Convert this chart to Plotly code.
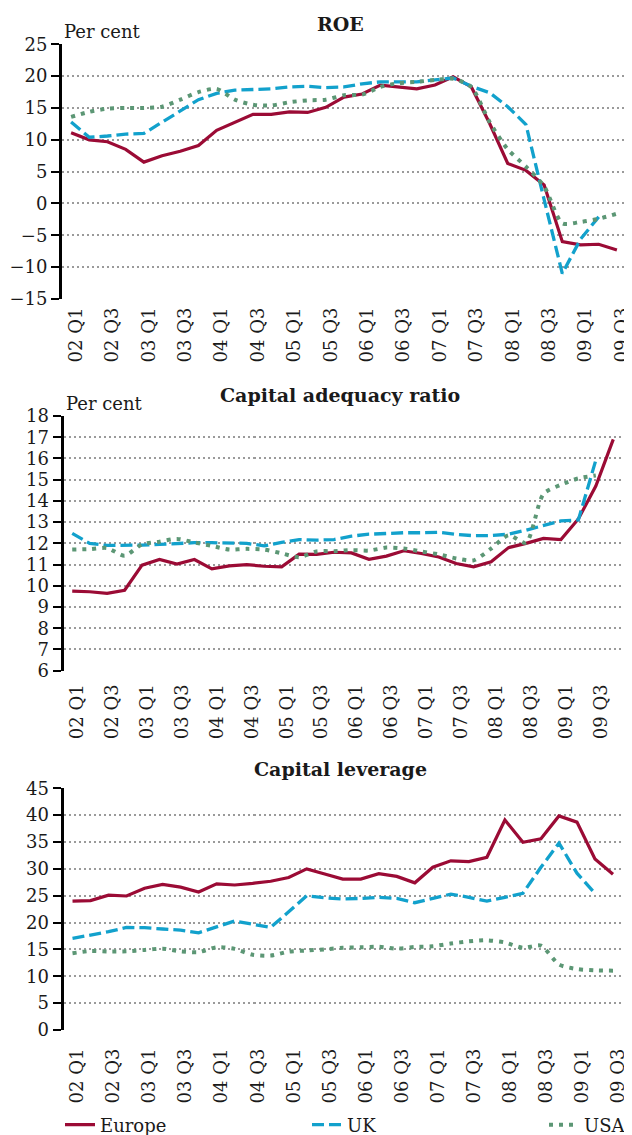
import plotly.graph_objects as go

# ---------------- data ----------------
quarters = [f"{y:02d} Q{q}" for y in range(2, 10) for q in range(1, 5)]  # 02 Q1 .. 09 Q4
q31 = quarters[:31]                 # 02 Q1 .. 09 Q3
q32 = quarters[:32]                 # 02 Q1 .. 09 Q4
tick_labels = quarters[0:31:2]      # every second quarter

roe_europe = [11.1, 10.0, 9.7, 8.5, 6.5, 7.5, 8.2, 9.1, 11.5, 12.8, 14.0, 14.0, 14.4, 14.3, 15.1, 16.7,
              17.2, 18.6, 18.3, 18.0, 18.6, 19.9, 18.3, 12.6, 6.3, 5.2, 2.9, -6.0, -6.5, -6.4, -7.3]
roe_uk = [12.8, 10.4, 10.6, 10.9, 11.0, 12.8, 14.6, 16.3, 17.3, 17.8, 17.9, 18.0, 18.3, 18.4, 18.2, 18.3,
          18.8, 19.1, 19.1, 19.1, 19.4, 19.7, 18.4, 17.4, 15.2, 12.4, 0.6, -11.0, -5.6, -2.1, None]
roe_usa = [13.6, 14.4, 14.9, 15.0, 15.0, 15.2, 16.3, 17.5, 18.0, 16.3, 15.5, 15.4, 15.9, 16.2, 16.3, 17.0,
           17.1, 18.3, 18.9, 19.1, 19.4, 19.6, 18.3, 12.8, 8.5, 5.8, 2.7, -3.1, -2.9, -2.4, -1.6]

car_europe = [9.75, 9.72, 9.64, 9.79, 10.97, 11.24, 11.02, 11.24, 10.8, 10.94, 11.0, 10.92, 10.89, 11.49,
              11.48, 11.58, 11.55, 11.25, 11.4, 11.65, 11.52, 11.36, 11.05, 10.89, 11.13, 11.8, 12.0,
              12.23, 12.18, 13.15, 14.7, 16.9]
car_uk = [12.47, 12.0, 11.9, 11.9, 11.92, 11.95, 12.0, 12.03, 12.03, 12.03, 12.0, 11.88, 12.05, 12.18,
          12.15, 12.18, 12.34, 12.43, 12.47, 12.5, 12.5, 12.52, 12.42, 12.36, 12.37, 12.43, 12.62, 12.86,
          13.06, 13.1, 15.92, None]
car_usa = [11.71, 11.73, 11.78, 11.42, 11.95, 12.08, 12.21, 12.04, 11.88, 11.71, 11.74, 11.71, 11.53,
           11.35, 11.62, 11.63, 11.68, 11.66, 11.8, 11.76, 11.62, 11.48, 11.29, 11.2, 11.75, 12.38, 12.03,
           14.33, 14.76, 15.06, 15.2, None]

lev_europe = [24.0, 24.1, 25.1, 24.95, 26.4, 27.1, 26.6, 25.7, 27.2, 27.0, 27.3, 27.7, 28.4, 30.0, 29.05,
              28.1, 28.1, 29.1, 28.6, 27.4, 30.3, 31.5, 31.35, 32.15, 39.1, 34.95, 35.6, 39.85, 38.7,
              31.85, 29.0]
lev_uk = [17.07, 17.7, 18.3, 19.1, 19.05, 18.8, 18.6, 18.1, 19.2, 20.3, 19.7, 19.1, 22.0, 25.0, 24.6, 24.4,
          24.5, 24.7, 24.5, 23.7, 24.5, 25.3, 24.7, 24.0, 24.7, 25.45, 30.3, 34.8, 29.2, 25.45, None]
lev_usa = [14.3, 14.7, 14.6, 14.65, 14.9, 15.15, 14.65, 14.5, 15.4, 15.1, 14.0, 13.85, 14.6, 14.8, 15.0,
           15.3, 15.4, 15.5, 15.15, 15.45, 15.6, 16.1, 16.5, 16.7, 16.3, 15.3, 15.7, 12.2, 11.35, 11.1, 11.05]

series_names = ["Europe", "UK", "USA"]
panel_titles = ["ROE", "Capital adequacy ratio", "Capital leverage"]

# ---------------- geometry (page pixels -> paper fractions) ----------------
W, H = 632, 1135
OX, OY = 8, 8          # the page body margin offsets the figure


def px(p):
    return (p - OX) / W


def py(p):
    return 1 - (p - OY) / H


# ---------------- style ----------------
FONT = "DejaVu Serif"
TXT = "#1a1a1a"
COLORS = {"Europe": "#9B0B35", "UK": "#12A1CC", "USA": "#5C9775"}
LINES = {
    "Europe": dict(color=COLORS["Europe"], width=3.2),
    "UK": dict(color=COLORS["UK"], width=3.3, dash="12px,5px"),
    "USA": dict(color=COLORS["USA"], width=4, dash="4px,6px", shape="spline", smoothing=0.7),
}
GRID = dict(showgrid=True, gridcolor="#9a9a9a", gridwidth=1.5, griddash="2px,3px")
TICKFONT = dict(family=FONT, size=18, color=TXT)
LEGEND_X = {"Europe": px(60), "UK": px(307), "USA": px(544)}
LEGEND_KEY = {"Europe": "legend", "UK": "legend2", "USA": "legend3"}

panels = [
    dict(cats=q31, data=[roe_europe, roe_uk, roe_usa], yrange=[-15, 25], dtick=5,
         xdom=[px(62), px(626)], ydom=[py(299), py(44.3)], percent=True,
         ytitle=py(24), standoff=4),
    dict(cats=q32, data=[car_europe, car_uk, car_usa], yrange=[6, 18], dtick=1,
         xdom=[px(63.5), px(622)], ydom=[py(670.7), py(416)], percent=True,
         ytitle=py(395), standoff=9),
    dict(cats=q31, data=[lev_europe, lev_uk, lev_usa], yrange=[0, 45], dtick=5,
         xdom=[px(63.5), px(622)], ydom=[py(1030), py(788.3)], percent=False,
         ytitle=py(769), standoff=14),
]

fig = go.Figure()
annotations = []
layout = {}

for p_i, p in enumerate(panels):
    n = p_i + 1
    xname = "x" if n == 1 else f"x{n}"
    yname = "y" if n == 1 else f"y{n}"
    xkey = "xaxis" if n == 1 else f"xaxis{n}"
    ykey = "yaxis" if n == 1 else f"yaxis{n}"
    ncat = len(p["cats"])

    for s_i, name in enumerate(series_names):
        vals = p["data"][s_i]
        fig.add_trace(go.Scatter(
            x=p["cats"][:len(vals)], y=vals, mode="lines", name=name,
            line=LINES[name], xaxis=xname, yaxis=yname,
            showlegend=(n == 1), legend=LEGEND_KEY[name], connectgaps=False,
        ))

    # axis with the quarter labels
    layout[xkey] = dict(
        domain=p["xdom"], anchor=yname, type="category", automargin=False,
        categoryorder="array", categoryarray=p["cats"], range=[-0.5, ncat - 0.5],
        tickmode="array", tickvals=tick_labels, ticktext=tick_labels,
        tickangle=-90, ticks="", showgrid=False, showline=False, zeroline=False,
        tickfont=TICKFONT, ticklabelstandoff=p["standoff"], ticklabelshift=5,
    )
    # axis carrying the line and the boundary tick marks
    tk = f"xaxis{n + 3}"
    tick_axis = dict(
        overlaying=xname, type="linear", range=[-0.5, ncat - 0.5], tick0=-0.5, dtick=1,
        ticks="outside", ticklen=7, tickwidth=2, tickcolor="black", automargin=False,
        showline=True, linewidth=2.5, linecolor="black",
        showticklabels=False, showgrid=False, zeroline=False, side="bottom",
    )
    if p["yrange"][0] < 0:
        lo, hi = p["yrange"]
        d0, d1 = p["ydom"]
        tick_axis.update(anchor="free", position=d0 + (0 - lo) / (hi - lo) * (d1 - d0))
    else:
        tick_axis.update(anchor=yname)
    layout[tk] = tick_axis

    layout[ykey] = dict(
        domain=p["ydom"], anchor=xname, range=p["yrange"], dtick=p["dtick"], tick0=0,
        showline=True, linewidth=3, linecolor="black", automargin=False,
        ticks="outside", ticklen=8, tickwidth=2, tickcolor="black",
        zeroline=False, tickfont=TICKFONT, **GRID,
    )

    annotations.append(dict(
        text=f"<b>{panel_titles[p_i]}</b>", xref="paper", yref="paper",
        x=px(340), y=p["ytitle"], xanchor="center", yanchor="middle", showarrow=False,
        font=dict(family=FONT, size=19, color=TXT),
    ))
    if p["percent"]:
        annotations.append(dict(
            text="Per cent", xref="paper", yref="paper",
            x=p["xdom"][0], y=p["ydom"][1], xanchor="left", yanchor="bottom",
            showarrow=False, font=dict(family=FONT, size=18, color=TXT),
        ))

for name in series_names:
    layout[LEGEND_KEY[name]] = dict(
        orientation="h", x=LEGEND_X[name], xanchor="left", y=py(1125), yanchor="middle",
        font=dict(family=FONT, size=18, color=TXT), itemwidth=30,
        bgcolor="rgba(0,0,0,0)",
    )

fig.update_layout(
    template="none",
    width=W, height=H, margin=dict(l=0, r=0, t=0, b=0, autoexpand=False),
    paper_bgcolor="white", plot_bgcolor="white",
    annotations=annotations,
    **layout,
)

fig.write_html("out.html")
